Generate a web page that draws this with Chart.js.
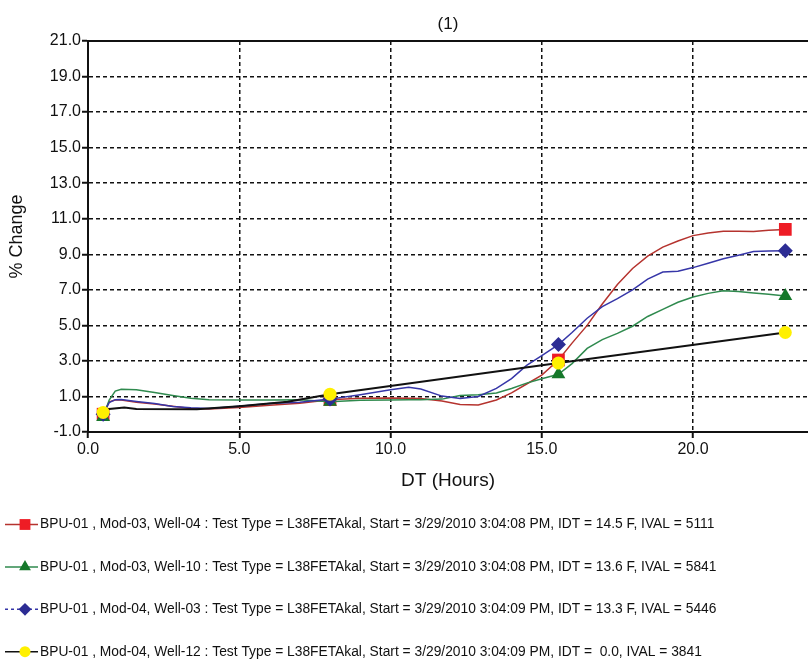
<!DOCTYPE html>
<html><head><meta charset="utf-8">
<script src="https://cdn.jsdelivr.net/npm/chart.js@4/dist/chart.umd.min.js"></script>
<style>html,body{margin:0;padding:0;background:#fff;overflow:hidden;}#wrap{width:808px;height:662px;}canvas{display:block;}</style>
</head><body><div id="wrap"><canvas id="c" width="808" height="662"></canvas></div>
<script>
const chartTitle = '(1)';
const xAxisTitle = 'DT (Hours)';
const yAxisTitle = '% Change';
const xTicks = [0, 5, 10, 15, 20];
const yTicks = [-1, 1, 3, 5, 7, 9, 11, 13, 15, 17, 19, 21];
const xMin = 0, xMax = 23.8, yMin = -1, yMax = 21;

const hours = [0.5, 0.7, 0.9, 1.1, 1.6, 2.2, 2.8, 3.4, 4.0, 5.0, 6.0, 7.0, 8.0, 9.0, 10.0, 10.6, 11.0, 11.7, 12.3, 12.9,
  13.5, 14.0, 14.5, 15.0, 15.55, 16.0, 16.5, 17.0, 17.5, 18.0, 18.5, 19.0, 19.5, 20.0, 20.5, 21.0, 21.5, 22.0, 22.5, 23.05];
const markerHours = [0.5, 8.0, 15.55, 23.05];

const well04 = [0.0, 0.7, 0.8, 0.8, 0.68, 0.57, 0.45, 0.32, 0.3, 0.38, 0.5, 0.62, 0.82, 0.9, 0.92, 0.9, 0.88, 0.75, 0.55, 0.52,
  0.8, 1.2, 1.7, 2.2, 3.05, 4.0, 5.0, 6.2, 7.3, 8.2, 8.9, 9.4, 9.75, 10.05, 10.2, 10.3, 10.3, 10.28, 10.35, 10.4];
const well10 = [-0.15, 0.8, 1.3, 1.4, 1.38, 1.22, 1.05, 0.9, 0.82, 0.8, 0.8, 0.82, 0.7, 0.78, 0.8, 0.82, 0.82, 0.85, 1.05, 1.1,
  1.2, 1.45, 1.75, 2.0, 2.25, 2.85, 3.7, 4.2, 4.55, 4.95, 5.5, 5.9, 6.3, 6.6, 6.8, 6.95, 6.9, 6.82, 6.75, 6.65];
const well03 = [0.0, 0.65, 0.82, 0.83, 0.72, 0.6, 0.44, 0.36, 0.32, 0.45, 0.6, 0.68, 0.85, 1.1, 1.38, 1.52, 1.42, 1.02, 0.88, 1.0,
  1.45, 2.0, 2.75, 3.3, 3.92, 4.6, 5.4, 6.05, 6.5, 7.0, 7.6, 8.0, 8.05, 8.25, 8.5, 8.75, 8.95, 9.15, 9.18, 9.2];
const well12Hours = [0.5, 0.7, 1.2, 1.6, 3.6, 5.0, 6.6, 8.0, 15.55, 23.05];
const well12 = [0.1, 0.3, 0.38, 0.3, 0.28, 0.45, 0.7, 1.13, 2.88, 4.6];

const legendLabels = [
  'BPU-01 , Mod-03, Well-04 : Test Type = L38FETAkal, Start = 3/29/2010 3:04:08 PM, IDT = 14.5 F, IVAL = 5111',
  'BPU-01 , Mod-03, Well-10 : Test Type = L38FETAkal, Start = 3/29/2010 3:04:08 PM, IDT = 13.6 F, IVAL = 5841',
  'BPU-01 , Mod-04, Well-03 : Test Type = L38FETAkal, Start = 3/29/2010 3:04:09 PM, IDT = 13.3 F, IVAL = 5446',
  'BPU-01 , Mod-04, Well-12 : Test Type = L38FETAkal, Start = 3/29/2010 3:04:09 PM, IDT =  0.0, IVAL = 3841'
];

const FONT = '"Liberation Sans", Arial, sans-serif';
const toXY = (xs, ys) => xs.map((x, i) => ({x: x, y: ys[i]}));
const markR = r => c => (c.raw && markerHours.includes(c.raw.x)) ? r : 0;

const mkSet = (label, xs, ys, line, mark, style, r, order, legendDash) => ({
  label, data: toXY(xs, ys), borderColor: line, borderWidth: 1.5, backgroundColor: mark,
  pointBackgroundColor: mark, pointBorderWidth: 0, pointStyle: style,
  pointRadius: markR(r), pointHoverRadius: markR(r), tension: 0, order, clip: 12,
  legendDash, legendRadius: r * 0.85
});

const datasets = [
  mkSet(legendLabels[0], hours, well04, '#b5332e', '#ee1c25', 'rect', 9, 3, []),
  mkSet(legendLabels[1], hours, well10, '#2f8a4e', '#15782a', 'triangle', 8, 2, []),
  mkSet(legendLabels[2], hours, well03, '#3636a8', '#2c2c94', 'rectRot', 7.5, 1, [3, 3]),
  mkSet(legendLabels[3], well12Hours, well12, '#111111', '#fff000', 'circle', 6.5, 0, [])
];
datasets[3].borderWidth = 2;

const legendPlugin = {
  id: 'wellLegend',
  afterDraw(chart) {
    const ctx = chart.ctx;
    const y0 = 524.5, gap = 42.4;
    chart.data.datasets.forEach((ds, i) => {
      const y = y0 + i * gap;
      ctx.save();
      ctx.strokeStyle = ds.borderColor;
      ctx.lineWidth = 1.5;
      ctx.setLineDash(ds.legendDash);
      ctx.beginPath(); ctx.moveTo(5, y); ctx.lineTo(38, y); ctx.stroke();
      ctx.setLineDash([]);
      ctx.fillStyle = ds.pointBackgroundColor;
      Chart.helpers.drawPoint(ctx, {pointStyle: ds.pointStyle, radius: ds.legendRadius, borderWidth: 0, rotation: 0}, 25, y);
      ctx.fillStyle = '#111';
      ctx.font = '13.8px ' + FONT;
      ctx.textBaseline = 'middle';
      ctx.textAlign = 'left';
      ctx.fillText(ds.label, 40, y);
      ctx.restore();
    });
  }
};

const fmt = v => Number(v).toFixed(1);
const setXTicks = s => { s.ticks = xTicks.map(v => ({value: v})); };

new Chart(document.getElementById('c'), {
  type: 'line',
  data: {datasets},
  plugins: [legendPlugin],
  options: {
    responsive: false, animation: false, events: [],
    layout: {autoPadding: false, padding: {top: 0, left: 0, right: 0, bottom: 160}},
    plugins: {legend: {display: false}, tooltip: {enabled: false}, title: {display: false}},
    scales: {
      x: {
        type: 'linear', position: 'bottom', min: xMin, max: xMax,
        afterBuildTicks: setXTicks,
        afterFit: s => { s.height = 70; },
        ticks: {callback: fmt, color: '#111', font: {size: 16, family: FONT}, padding: 2, maxRotation: 0},
        grid: {color: c => (c.tick && c.tick.value === 0) ? 'rgba(0,0,0,0)' : '#111', lineWidth: 1.5,
               drawTicks: true, tickLength: 6, tickColor: '#111', tickWidth: 2},
        border: {display: true, color: '#111', width: 2, dash: [4, 3]},
        title: {display: true, text: xAxisTitle, color: '#111', font: {size: 19, family: FONT}, padding: {top: 0, bottom: 10}}
      },
      x2: {
        type: 'linear', position: 'top', min: xMin, max: xMax,
        afterBuildTicks: setXTicks,
        afterFit: s => { s.height = 41; },
        ticks: {display: false},
        grid: {drawOnChartArea: false, drawTicks: false},
        border: {display: true, color: '#111', width: 2},
        title: {display: true, text: chartTitle, color: '#111', font: {size: 17, family: FONT}, padding: {top: 14, bottom: 0}}
      },
      y: {
        type: 'linear', position: 'left', min: yMin, max: yMax,
        afterBuildTicks: s => { s.ticks = yTicks.map(v => ({value: v})); },
        afterFit: s => { s.width = 88; },
        ticks: {callback: fmt, color: '#111', font: {size: 16, family: FONT}, padding: 1},
        grid: {color: c => (c.tick && (c.tick.value === yMin || c.tick.value === yMax)) ? 'rgba(0,0,0,0)' : '#111', lineWidth: 1.5,
               drawTicks: true, tickLength: 6, tickColor: '#111', tickWidth: 2},
        border: {display: true, color: '#111', width: 2, dash: [4, 3]},
        title: {display: true, text: yAxisTitle, color: '#111', font: {size: 18, family: FONT}, padding: {top: 6, bottom: 0}}
      }
    }
  }
});
</script>
</body></html>
